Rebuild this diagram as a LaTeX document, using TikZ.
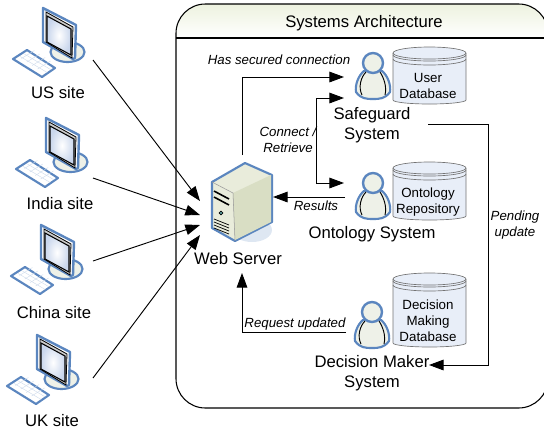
\documentclass[tikz,border=0pt]{standalone}
\usepackage{fontspec}
\setmainfont{Liberation Sans}
\usetikzlibrary{arrows.meta}
\definecolor{IconBlue}{HTML}{5B86BF}
\definecolor{IconFill}{HTML}{EEF1E8}
\definecolor{ScreenFill}{HTML}{C9D6EC}
\definecolor{DbFill}{HTML}{E8EEF8}
\definecolor{HeaderFill}{HTML}{EDF2DF}
\definecolor{ServerFront}{HTML}{E9ECDB}
\definecolor{ServerSide}{HTML}{D9DEC4}
\colorlet{ShadowFill}{IconBlue!20}
\tikzset{
    flow/.style={draw=black, line width=0.7pt, -{Triangle[length=11pt, width=8pt]}},
    sitelabel/.style={font=\fontsize{12.5}{15}\selectfont, align=center},
    dblabel/.style={font=\fontsize{10}{12}\selectfont, align=center},
    flowlabel/.style={font=\fontsize{9.95}{12}\selectfont\itshape, align=center},
    pics/computerpic/.style={code={
        \draw[line width=1.6pt, draw=IconBlue, fill=IconFill] (67.5,52) ellipse (17 and 10);
        \draw[line width=1.8pt, draw=IconBlue, fill=white, line join=round]
            (43,8) -- (76,25) -- (75,58) -- (73,59) -- (43,42) -- cycle;
        \draw[line width=0.6pt, fill=black!20] (46,12) -- (73,27) -- (72,58) -- (46,42) -- cycle;
        \shade[inner color=white, outer color=ScreenFill, draw=black, line width=0.8pt]
            (47,16) -- (71,29) -- (71,55) -- (47,42) -- cycle;
        \draw[line width=1.6pt, draw=IconBlue, fill=white, line join=round]
            (13,59) -- (27,50) -- (55,68) -- (42,77) -- cycle;
        \foreach \k in {1,2,3,4}
            \draw[line width=0.3pt, draw=IconBlue!30] (16+\k*5.4,55+\k*3.5) -- (29+\k*5.4,47+\k*3.5);
        \foreach \k in {1,2}
            \draw[line width=0.3pt, draw=IconBlue!30] (16+\k*4.2,59-\k*2.5) -- (43+\k*4.2,75-\k*2.5);
    }},
    pics/personpic/.style={code={
        \draw[line width=1.6pt, draw=IconBlue, fill=IconFill, line join=round]
            (-9,8) .. controls (-15,13) and (-18,22) .. (-17,29)
            .. controls (-12,36) and (-6,36) .. (0,36)
            .. controls (6,36) and (12,36) .. (17,29)
            .. controls (18,22) and (15,13) .. (9,8) -- cycle;
        \draw[line width=0.7pt] (-7,9) .. controls (-12,14) and (-15,24) .. (-11,32);
        \draw[line width=0.7pt] (7,9) .. controls (11,15) and (14,24) .. (12,32);
        \draw[line width=1.8pt, draw=IconBlue, fill=IconFill] (0,0) circle (10);
    }}
}
% top of the can, bottom of the can, x is the same for all three
\newcommand{\DrawDb}[2]{
    \draw[draw=black!55, fill=DbFill, line width=0.5pt]
        (393,#1+6) arc[start angle=180, end angle=360, x radius=36.5, y radius=6]
        -- (466,#2-4) arc[start angle=0, end angle=180, x radius=36.5, y radius=4] -- cycle;
    \draw[draw=black!55, line width=0.5pt] (393,#1+6) arc[start angle=180, end angle=0, x radius=36.5, y radius=6];
    \draw[draw=black!55, line width=0.5pt] (393,#1+8) arc[start angle=180, end angle=0, x radius=36.5, y radius=6];
    \draw[draw=black!55, line width=0.5pt] (393,#1+12) arc[start angle=180, end angle=0, x radius=36.5, y radius=6];
}

\begin{document}
\begin{tikzpicture}[x=0.75pt, y=-0.75pt]
\useasboundingbox (0,0) rectangle (544,430);

% the frame runs past the right edge of the page
\begin{scope}
\clip[rounded corners=22pt] (300,4) -- (548,4) -- (548,408) -- (176,408) -- (176,4) -- cycle;
\shade[top color=HeaderFill, bottom color=white] (176,4) rectangle (548,38);
\end{scope}
\draw[line width=0.8pt, rounded corners=22pt] (300,4) -- (548,4) -- (548,408) -- (176,408) -- (176,4) -- cycle;
\draw[line width=0.8pt] (176,38) -- (548,38);
\node[sitelabel] (title) at (364,23) {Systems Architecture};

\pic (ussite) at (0,0) {computerpic};
\pic (indiasite) at (3,110) {computerpic};
\pic (chinasite) at (-2,217) {computerpic};
\pic (uksite) at (-6,327) {computerpic};
\node[sitelabel] (uslabel) at (58,93) {US site};
\node[sitelabel] (indialabel) at (60,204) {India site};
\node[sitelabel] (chinalabel) at (54,313) {China site};
\node[sitelabel] (uklabel) at (52,421) {UK site};

% server
\fill[ShadowFill] (252,230) ellipse (20 and 12);
\draw[line width=1.6pt, draw=IconBlue, fill=ServerFront, line join=round]
    (212,182) -- (245,163) -- (272,175) -- (272,222) -- (235,241) -- (212,228) -- cycle;
\fill[ServerSide] (233,193) -- (271,175) -- (271,222) -- (235,240) -- cycle;
\draw[line width=0.4pt, draw=black!40] (212,182) -- (233,193) -- (235,241);
\draw[line width=1.2pt] (214,191) -- (229,199);
\draw[line width=1.2pt] (214,197) -- (229,205);
\draw[line width=0.5pt, fill=teal!60] (221,213) circle (1.8);
\foreach \y in {223,226,229,232}
    \draw[line width=0.5pt] (214,\y-4) -- (229,\y+2);
\node[sitelabel] (webserver) at (238,259) {Web Server};

\pic (safeguard) at (373,63) {personpic};
\pic (ontology) at (373,183) {personpic};
\pic (decision) at (372,312) {personpic};
\DrawDb{47}{104}
\DrawDb{162}{220}
\DrawDb{273}{347}
\node[dblabel] (userdb) at (428,86) {User\\Database};
\node[dblabel] (ontologydb) at (428,202) {Ontology\\Repository};
\node[dblabel] (decisiondb) at (428,321) {Decision\\Making\\Database};
\node[sitelabel] (safeguardlabel) at (372,125) {Safeguard\\System};
\node[sitelabel] (ontologylabel) at (372,234) {Ontology System};
\node[sitelabel] (decisionlabel) at (372,373) {Decision Maker\\System};

% ends of the connectors
\coordinate (USout) at (93,60);
\coordinate (INout) at (93,178);
\coordinate (CNout) at (93,261);
\coordinate (UKout) at (93,378);
\coordinate (USin) at (200,201);
\coordinate (INin) at (200,215);
\coordinate (CNin) at (200,225);
\coordinate (UKin) at (200,235);
\coordinate (ServerTop) at (242,155);
\coordinate (ServerBottom) at (242,273);
\coordinate (ServerRight) at (273,197);
\coordinate (SafeIn) at (344,77);
\coordinate (SafeBoth) at (344,98);
\coordinate (OntoBoth) at (344,183);
\coordinate (OntoOut) at (345,197);
\coordinate (DecisionOut) at (346,332);
\coordinate (SafeOut) at (428,124);
\coordinate (DecisionIn) at (429,365);

\draw[flow] (USout) -- (USin);
\draw[flow] (INout) -- (INin);
\draw[flow] (CNout) -- (CNin);
\draw[flow] (UKout) -- (UKin);
\draw[flow] (ServerTop) |- (SafeIn);
\draw[flow, {Triangle[length=11pt, width=8pt]}-{Triangle[length=11pt, width=8pt]}] (SafeBoth) -- (316,98) -- (316,183) -- (OntoBoth);
\draw[flow] (OntoOut) -- (ServerRight);
\draw[flow] (DecisionOut) -| (ServerBottom);
\draw[flow] (SafeOut) -- (488,124) -- (488,365) -- (DecisionIn);

\node[flowlabel] (securedlabel) at (279,60) {Has secured connection};
\node[flowlabel] (connectlabel) at (288,140) {Connect /\\Retrieve};
\node[flowlabel] (resultslabel) at (316,206) {Results};
\node[flowlabel] (pendinglabel) at (515,225) {Pending\\update};
\node[flowlabel] (requestlabel) at (295,324) {Request updated};
\end{tikzpicture}
\end{document}
